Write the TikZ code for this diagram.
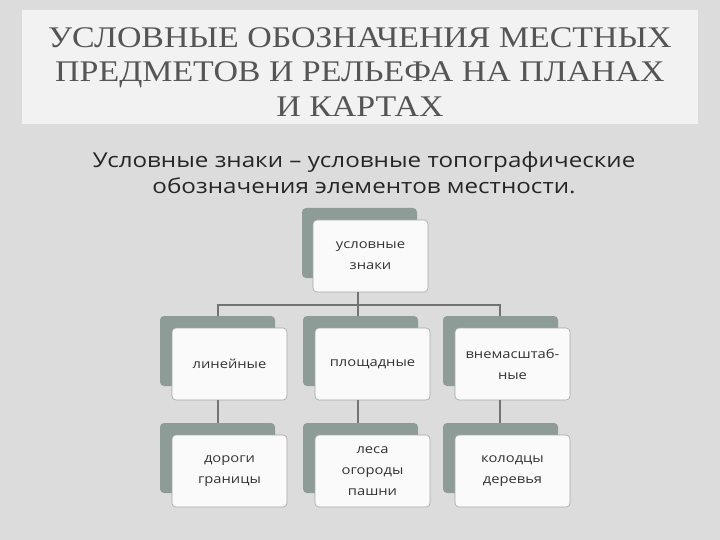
\documentclass[tikz,border=0pt]{standalone}
\usepackage{fontspec}
\setmainfont{Liberation Serif}
\newfontfamily\tserif[FakeStretch=1.13]{Liberation Serif}
\newfontfamily\gsans[FakeStretch=1.18]{Open Sans}
\definecolor{bgc}{HTML}{DCDCDC}
\definecolor{bandc}{HTML}{F2F2F2}
\definecolor{darkc}{HTML}{8E9C97}
\definecolor{txt}{HTML}{555555}
\begin{document}
\begin{tikzpicture}[x=1pt,y=-1pt,
 back/.style={fill=darkc,rounded corners=4pt},
 front/.style={fill=white!96!gray,draw=gray!70,line width=0.6pt,rounded corners=4pt,align=center,font=\gsans\fontsize{12.5}{21}\selectfont,text=black!80,inner sep=0},
 conn/.style={draw=gray!90!black,line width=1.2pt}]
\fill[bgc] (0,0) rectangle (720,540);
\fill[bandc] (22,10) rectangle (698,124);
\node[text=txt,align=center,font=\tserif\fontsize{30}{34.5}\selectfont] (title) at (360,72) {УСЛОВНЫЕ ОБОЗНАЧЕНИЯ МЕСТНЫХ\\ПРЕДМЕТОВ И РЕЛЬЕФА НА ПЛАНАХ\\И КАРТАХ};
\node[text=black!85,align=center,font=\gsans\fontsize{20.5}{26}\selectfont] (sub) at (364,173) {Условные знаки – условные топографические\\обозначения элементов местности.};
\foreach \x/\y in {302/208,160/316,303/316,443/316,160/423,303/423,443/423}
  \fill[back] (\x,\y) rectangle ++(115,70);
\node[front,minimum width=115pt,minimum height=72pt] (top) at (370.5,256) {условные\\знаки};
\node[front,minimum width=115pt,minimum height=72pt] (l1) at (229.5,364) {линейные};
\node[front,minimum width=115pt,minimum height=72pt] (m1) at (372.5,364) {площадные};
\node[front,minimum width=115pt,minimum height=72pt] (r1) at (512.5,364) {внемасштаб-\\ные};
\node[front,minimum width=115pt,minimum height=72pt] (l2) at (229.5,471) {дороги\\границы};
\node[front,minimum width=115pt,minimum height=72pt] (m2) at (372.5,471) {леса\\огороды\\пашни};
\node[front,minimum width=115pt,minimum height=72pt] (r2) at (512.5,471) {колодцы\\деревья};
\coordinate (h) at (358,305);
\draw[conn] (358,292) -- (h);
\draw[conn] (218,316) -- (218,305) -- (500,305) -- (500,316);
\draw[conn] (358,305) -- (358,316);
\foreach \x in {218,358,500} \draw[conn] (\x,400) -- (\x,423);
\end{tikzpicture}
\end{document}
